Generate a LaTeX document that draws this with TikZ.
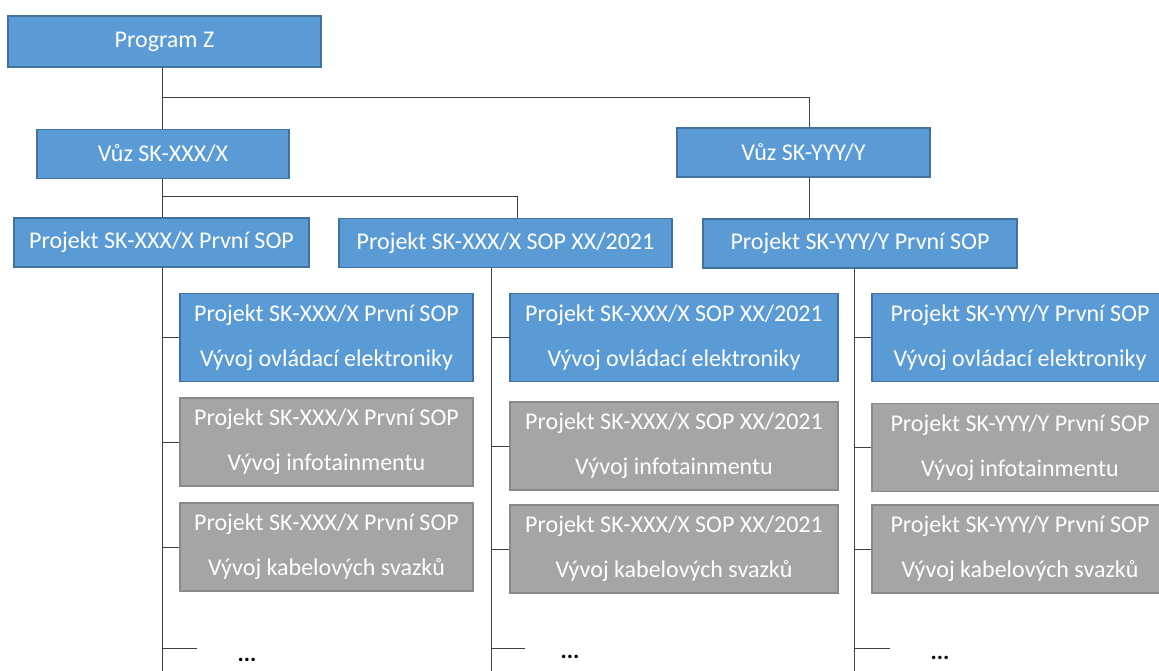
\documentclass[tikz,border=0pt]{standalone}
\usepackage{fontspec}
\setmainfont{Carlito}
\usetikzlibrary{calc}
\definecolor{boxblue}{HTML}{5B9BD5}
\definecolor{edgeblue}{HTML}{41719C}
\definecolor{boxgray}{HTML}{A5A5A5}
\definecolor{edgegray}{HTML}{8A8A8A}

\begin{document}
\begin{tikzpicture}[x=1pt,y=-1pt,
    bluebox/.style={draw=edgeblue,fill=boxblue,line width=1.5pt,text=white,
      font=\fontsize{24}{45}\selectfont,align=center,inner sep=0pt,minimum height=49pt},
    graybox/.style={bluebox,draw=edgegray,fill=boxgray},
    link/.style={black!75,line width=1pt}]
    \useasboundingbox (0,0) rectangle (1159,671);
    \node[bluebox,minimum width=313pt,minimum height=51pt] (prog) at (164.5,41.5) {Program Z};
    \node[bluebox,minimum width=252pt] (vuzx) at (163,154) {Vůz SK-XXX/X};
    \node[bluebox,minimum width=253pt] (vuzy) at (803.5,152.5) {Vůz SK-YYY/Y};
    \node[bluebox,minimum width=295pt] (px1) at (161.5,242.5) {Projekt SK-XXX/X První SOP};
    \node[bluebox,minimum width=333pt] (px2) at (505.5,243) {Projekt SK-XXX/X SOP XX/2021};
    \node[bluebox,minimum width=314pt] (py1) at (860,243.5) {Projekt SK-YYY/Y První SOP};
    \node[bluebox,minimum width=293pt,minimum height=88pt] (a1) at (326.5,337.5)
      {Projekt SK-XXX/X První SOP\\Vývoj ovládací elektroniky};
    \node[graybox,minimum width=293pt,minimum height=88pt] (a2) at (326.5,442)
      {Projekt SK-XXX/X První SOP\\Vývoj infotainmentu};
    \node[graybox,minimum width=293pt,minimum height=88pt] (a3) at (326.5,547)
      {Projekt SK-XXX/X První SOP\\Vývoj kabelových svazků};
    \node[bluebox,minimum width=328pt,minimum height=88pt] (b1) at (674,337.5)
      {Projekt SK-XXX/X SOP XX/2021\\Vývoj ovládací elektroniky};
    \node[graybox,minimum width=328pt,minimum height=88pt] (b2) at (674,446)
      {Projekt SK-XXX/X SOP XX/2021\\Vývoj infotainmentu};
    \node[graybox,minimum width=328pt,minimum height=88pt] (b3) at (674,549)
      {Projekt SK-XXX/X SOP XX/2021\\Vývoj kabelových svazků};
    \node[bluebox,minimum width=296pt,minimum height=88pt] (c1) at (1020,337.5)
      {Projekt SK-YYY/Y První SOP\\Vývoj ovládací elektroniky};
    \node[graybox,minimum width=296pt,minimum height=88pt] (c2) at (1020,447.5)
      {Projekt SK-YYY/Y První SOP\\Vývoj infotainmentu};
    \node[graybox,minimum width=296pt,minimum height=88pt] (c3) at (1020,549)
      {Projekt SK-YYY/Y První SOP\\Vývoj kabelových svazků};
    \coordinate (j1) at (162,98);
    \coordinate (j2) at (162,197);
    \draw[link] (prog.south -| j1) -- (vuzx.north -| j1);
    \draw[link] (j1) -| ([xshift=5.5pt]vuzy.north);
    \draw[link] (vuzx.south -| j2) -- (px1.north -| j2);
    \draw[link] (j2) -| ([xshift=11.5pt]px2.north);
    \draw[link] ([xshift=5.5pt]vuzy.south) -- ([xshift=5.5pt]vuzy.south |- py1.north);
    \coordinate (s1) at (162,671);
    \coordinate (s2) at (491,671);
    \coordinate (s3) at (854,671);
    \draw[link] (px1.south -| s1) -- (s1);
    \draw[link] (px2.south -| s2) -- (s2);
    \draw[link] (py1.south -| s3) -- (s3);
    \foreach \s/\c in {s1/a,s2/b,s3/c}
      \foreach \k in {1,2,3}
        \draw[link] (\c\k.west -| \s) -- (\c\k.west);
    \coordinate (e1) at (197,648);
    \coordinate (e2) at (525,648);
    \coordinate (e3) at (890,648);
    \draw[link] (e1 -| s1) -- (e1);
    \draw[link] (e2 -| s2) -- (e2);
    \draw[link] (e3 -| s3) -- (e3);
    \node[anchor=base,font=\fontsize{23.5}{28}\selectfont\bfseries] (d1) at (247,661) {...};
    \node[anchor=base,font=\fontsize{23.5}{28}\selectfont\bfseries] (d2) at (570,658) {...};
    \node[anchor=base,font=\fontsize{23.5}{28}\selectfont\bfseries] (d3) at (940,659) {...};
\end{tikzpicture}
\end{document}
